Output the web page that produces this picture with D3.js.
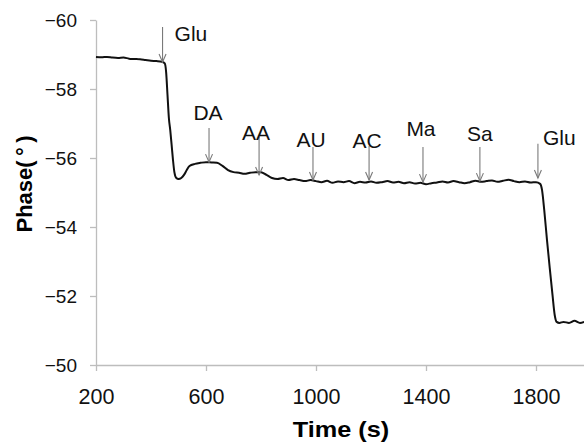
<!DOCTYPE html>
<html>
<head>
<meta charset="utf-8">
<title>Phase vs time</title>
<script src="https://d3js.org/d3.v7.min.js"></script>
<style>
  body { margin: 0; background: #fff; }
  svg { display: block; font-family: Arial, "Liberation Sans", sans-serif; }
  .axis path, .axis line { stroke: #bdbdbd; stroke-width: 1.3; }
  .axis text { fill: #111; }
  .xaxis text { font-size: 21.5px; }
  .yaxis text { font-size: 19px; }
</style>
</head>
<body>
<svg id="chart" width="584" height="443"></svg>
<script>
// phase trace: time (s) and phase (deg)
var times = [200, 220, 240, 260, 280, 300, 320, 340, 360, 380, 400, 420, 440, 450,
  455, 460, 465, 470, 475, 480, 485, 492, 500, 510, 520, 530, 540, 560, 580, 600,
  620, 640, 660, 680, 700, 720, 740, 760, 780, 800, 820, 840, 860, 880, 900, 920,
  940, 960, 980, 1000, 1020, 1040, 1060, 1080, 1100, 1120, 1140, 1160, 1180, 1200,
  1220, 1240, 1260, 1280, 1300, 1320, 1340, 1360, 1380, 1400, 1420, 1440, 1460,
  1480, 1500, 1520, 1540, 1560, 1580, 1600, 1620, 1640, 1660, 1680, 1700, 1720,
  1740, 1760, 1780, 1800, 1815, 1822, 1830, 1840, 1850, 1860, 1868, 1875, 1885,
  1900, 1920, 1940, 1960, 1975];
var phase = [-58.93, -58.92, -58.93, -58.91, -58.90, -58.91, -58.88, -58.87, -58.86,
  -58.84, -58.82, -58.81, -58.79, -58.74,
  -58.49, -57.83, -57.16, -56.81, -56.38, -55.94, -55.59, -55.42, -55.39, -55.42,
  -55.51, -55.65, -55.77, -55.83, -55.86, -55.88,
  -55.87, -55.86, -55.77, -55.65, -55.59, -55.57, -55.54, -55.57, -55.59, -55.59,
  -55.51, -55.42, -55.39, -55.42, -55.36, -55.39,
  -55.36, -55.33, -55.36, -55.33, -55.30, -55.34, -55.28, -55.32, -55.30, -55.33,
  -55.27, -55.31, -55.29, -55.32,
  -55.28, -55.30, -55.33, -55.29, -55.31, -55.27, -55.30, -55.26, -55.28, -55.24,
  -55.27, -55.29, -55.32,
  -55.29, -55.33, -55.30, -55.27, -55.30, -55.34, -55.31, -55.33, -55.35, -55.31,
  -55.34, -55.37, -55.33,
  -55.30, -55.32, -55.29, -55.30, -55.25, -55.07, -54.49, -53.62, -52.81, -52.03,
  -51.45, -51.25, -51.22,
  -51.25, -51.22, -51.28, -51.22, -51.25];

// injections: name, time, arrow top and tip (phase units)
var injNames = ["Glu", "DA", "AA", "AU", "AC", "Ma", "Sa", "Glu"];
var injTimes = [442, 611, 793, 989, 1193, 1389, 1596, 1807];
var injTop = [-59.80, -56.87, -56.61, -56.32, -56.35, -56.32, -56.32, -56.41];
var injTip = [-58.78, -55.88, -55.51, -55.36, -55.36, -55.30, -55.33, -55.42];

var xTicks = [200, 600, 1000, 1400, 1800];
var yTicks = [-60, -58, -56, -54, -52, -50];

// label placement for each injection (dx from arrow, baseline y in px)
var labelPos = [
  {anchor: "start", dx: 12, y: 41},
  {anchor: "middle", dx: -1, y: 120},
  {anchor: "middle", dx: -3, y: 140},
  {anchor: "middle", dx: -2, y: 147},
  {anchor: "middle", dx: -2, y: 148},
  {anchor: "middle", dx: -2, y: 136},
  {anchor: "middle", dx: 0, y: 141},
  {anchor: "start", dx: 5, y: 145}
];

var svg = d3.select("#chart");
var x = d3.scaleLinear().domain([200, 2000]).range([96, 591]);
var y = d3.scaleLinear().domain([-60, -50]).range([20, 365]);

svg.append("g").attr("class", "axis xaxis")
  .attr("transform", "translate(0,365)")
  .call(d3.axisBottom(x).tickValues(xTicks).tickSize(6).tickSizeOuter(0).tickPadding(18).tickFormat(d => String(d)));

svg.append("g").attr("class", "axis yaxis")
  .attr("transform", "translate(96,0)")
  .call(d3.axisLeft(y).tickValues(yTicks).tickSize(6).tickSizeOuter(0).tickPadding(13).tickFormat(d3.format("d")));

// curve
var pts = times.map((t, i) => [t, phase[i]]);
svg.append("path")
  .datum(pts)
  .attr("fill", "none")
  .attr("stroke", "#111")
  .attr("stroke-width", 2)
  .attr("stroke-linejoin", "round")
  .attr("d", d3.line().x(d => x(d[0])).y(d => y(d[1])).curve(d3.curveMonotoneX));

// arrows
var arr = svg.append("g").attr("stroke", "#7a7a7a").attr("stroke-width", 1.1).attr("fill", "none");
injTimes.forEach(function(t, i) {
  var ax = x(t), y0 = y(injTop[i]), y1 = y(injTip[i]);
  arr.append("line").attr("x1", ax).attr("x2", ax).attr("y1", y0).attr("y2", y1);
  arr.append("path").attr("d", `M${ax - 3.5},${y1 - 8}L${ax},${y1}L${ax + 3.5},${y1 - 8}`);
  svg.append("text")
    .attr("x", ax + labelPos[i].dx)
    .attr("y", labelPos[i].y)
    .attr("text-anchor", labelPos[i].anchor)
    .attr("font-size", 21)
    .attr("fill", "#111")
    .text(injNames[i]);
});

// axis titles
svg.append("text")
  .attr("transform", "translate(341,437) scale(1.15,1)")
  .attr("text-anchor", "middle")
  .attr("font-size", 22).attr("font-weight", "bold")
  .text("Time (s)");

svg.append("text")
  .attr("transform", "translate(32,184) rotate(-90)")
  .attr("text-anchor", "middle")
  .attr("font-size", 22).attr("font-weight", "bold")
  .text("Phase(\u2009\u00b0\u2009)");
</script>
</body>
</html>
